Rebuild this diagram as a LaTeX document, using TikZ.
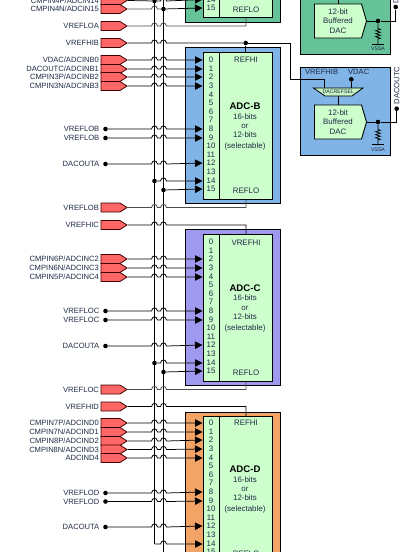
\documentclass[tikz,border=0pt]{standalone}
\usepackage{fontspec}
\setmainfont{Liberation Sans}
\usetikzlibrary{arrows.meta,positioning,shapes.symbols,decorations.pathmorphing}

\definecolor{adcgreen}{HTML}{66C299}
\definecolor{adcblue}{HTML}{80B3E6}
\definecolor{adcviolet}{HTML}{A099F0}
\definecolor{adcorange}{HTML}{F2A366}
\definecolor{innergreen}{HTML}{CCFFCC}
\definecolor{pinred}{HTML}{FF6666}
\definecolor{inktext}{HTML}{1F2A44}

\tikzset{
  outerbox/.style={draw, line width=0.9pt, anchor=north west, inner sep=0pt, minimum width=95.5pt},
  innerbox/.style={draw, line width=0.9pt, anchor=north west, inner sep=0pt, fill=innergreen, minimum width=69pt},
  redpin/.style={draw=black!75!red, line width=0.8pt, fill=pinred, shape=signal, signal to=east, signal from=nowhere, signal pointer angle=65, minimum width=26pt, minimum height=9pt, inner sep=0pt},
  blackdot/.style={circle, fill=black, inner sep=0pt, minimum size=4.6pt},
  pintext/.style={text=inktext, font=\fontsize{7.6}{8}\selectfont, inner sep=0pt},
  adctext/.style={text=inktext, font=\fontsize{7.9}{9.2}\selectfont, inner sep=0pt},
  adctitle/.style={font=\bfseries\fontsize{9.6}{10}\selectfont, inner sep=0pt},
  smalltext/.style={text=inktext, font=\fontsize{5.2}{6}\selectfont, inner sep=0pt},
  sigline/.style={line width=0.75pt, -{Triangle[length=7.5pt,width=7.5pt]}},
  refline/.style={line width=0.75pt},
  dacbox/.style={draw, line width=0.9pt, fill=innergreen, shape=signal, signal to=east, signal from=nowhere, signal pointer angle=147, minimum width=52pt, minimum height=34pt, inner sep=0pt, align=center, text=inktext, font=\fontsize{7.9}{9.4}\selectfont},
  muxbox/.style={draw, line width=0.8pt, fill=innergreen!90!gray},
  resistor/.style={line width=0.7pt, decorate, decoration={zigzag, segment length=3pt, amplitude=2.4pt, pre length=5pt, post length=4pt}}
}

% line hopping over the two vertical buses
\newcommand{\hops}[1]{-- (151.5,#1) .. controls (152.2,#1-4.2) and (156.8,#1-4.2) .. (157.5,#1) -- (160.5,#1) .. controls (161.2,#1-4.2) and (165.8,#1-4.2) .. (166.5,#1)}
% red pin with its name and a line to #4
\newcommand{\pinrow}[4]{
  \node[redpin] (#1) at (110.5,#2) {};
  \node[pintext, left=1.5pt of #1] {#3};
  \draw[sigline] (#1.east) \hops{#2} -- #4;
}
% black dot with its name and a line to #4
\newcommand{\dotrow}[4]{
  \node[blackdot] (#1) at (105.5,#2) {};
  \node[pintext, left=3.5pt of #1] {#3};
  \draw[sigline] (#1) \hops{#2} -- #4;
}
% pin numbers of one ADC, #1 is the name, #2 the offset
\newcommand{\adcnums}[2]{
  \foreach \n/\y in {0/0,1/9,2/17,3/26,4/35,5/43,6/52,7/60,8/69,9/78,10/86,11/95,12/103,13/112,14/121,15/129} {
    \node[adctext] (#1\n) at (211,#2+\y) {\n};
  }
}
% name and width text of one ADC
\newcommand{\adclabel}[2]{
  \node[adctitle] at (245,#2) {#1};
  \node[adctext, align=center] at (245,#2+25.5) {16-bits\\or\\12-bits\\[1.6pt](selectable)};
}

\begin{document}
\begin{tikzpicture}[x=1pt,y=-1pt]
\useasboundingbox (0,0) rectangle (410,552);
\clip (0,0) rectangle (410,552);

% converter blocks
\node[outerbox, fill=adcgreen, minimum height=100pt] (outerA) at (184.5,-78.5) {};
\node[innerbox, minimum height=95pt] (adcA) at (202.5,-78) {};
\node[outerbox, fill=adcblue, minimum height=156pt] (outerB) at (184.5,47) {};
\node[innerbox, minimum height=147pt] (adcB) at (202.5,52) {};
\node[outerbox, fill=adcviolet, minimum height=156pt] (outerC) at (184.5,229) {};
\node[innerbox, minimum height=147pt] (adcC) at (202.5,234) {};
\node[outerbox, fill=adcorange, minimum height=156pt] (outerD) at (184.5,411.5) {};
\node[innerbox, minimum height=147pt] (adcD) at (202.5,416) {};
\draw[line width=0.9pt] (219.5,-5) -- (219.5,17);
\draw[line width=0.9pt] (219.5,52) -- (219.5,199);
\draw[line width=0.9pt] (219.5,234) -- (219.5,381);
\draw[line width=0.9pt] (219.5,416) -- (219.5,563);

\node[adctext] (A14) at (211,-0.5) {14};
\node[adctext] (A15) at (211,8) {15};
\adcnums{B}{60}
\adcnums{C}{242}
\adcnums{D}{423}
\adclabel{ADC-B}{106.5}
\adclabel{ADC-C}{288}
\adclabel{ADC-D}{469.5}

\node[adctext] (refloA) at (246,10) {REFLO};
\node[adctext] (refhiB) at (246,60) {REFHI};
\node[adctext] (refloB) at (246,191) {REFLO};
\node[adctext] (refhiC) at (246,243) {VREFHI};
\node[adctext] (refloC) at (246,373) {REFLO};
\node[adctext] (refhiD) at (246,423) {REFHI};
\node[adctext] (refloD) at (246,554) {REFLO};

% the two buses
\draw[refline] (154.5,-2) -- (154.5,544);
\draw[refline] (163.5,-2) -- (163.5,554);
\node[blackdot] (busA) at (154.5,1) {};
\node[blackdot] (busB) at (163.5,9) {};
\node[blackdot] (busC) at (154.5,181) {};
\node[blackdot] (busD) at (163.5,190) {};
\node[blackdot] (busE) at (154.5,363) {};
\node[blackdot] (busF) at (163.5,372) {};
\coordinate (busG) at (154.5,544);
\draw[sigline] (busA) -- (160.5,1) .. controls (161.2,-3.2) and (165.8,-3.2) .. (166.5,1) -- (adcA.west |- A14);
\draw[sigline] (busB) -- (adcA.west |- A15);
\draw[sigline] (busC) -- (160.5,181) .. controls (161.2,176.8) and (165.8,176.8) .. (166.5,181) -- (adcB.west |- B14);
\draw[sigline] (busD) -- (adcB.west |- B15);
\draw[sigline] (busE) -- (160.5,363) .. controls (161.2,358.8) and (165.8,358.8) .. (166.5,363) -- (adcC.west |- C14);
\draw[sigline] (busF) -- (adcC.west |- C15);
\draw[sigline] (busG) -- (160.5,544) .. controls (161.2,539.8) and (165.8,539.8) .. (166.5,544) -- (adcD.west |- D14);

% top edge
\node[redpin] (pinA) at (110.5,0.5) {};
\node[pintext, left=1.5pt of pinA] {CMPIN4P/ADCIN14};
\draw[refline] (pinA.east) -- (busA);
\node[redpin] (pinB) at (110.5,9) {};
\node[pintext, left=1.5pt of pinB] {CMPIN4N/ADCIN15};
\draw[refline, black!70] (pinB.east) -- (151.5,9) .. controls (152.2,4.8) and (156.8,4.8) .. (157.5,9) -- (busB);

% reference lines
\node[redpin] (vreflA) at (110.5,26) {};
\node[pintext, left=1.5pt of vreflA] {VREFLOA};
\draw[refline, black!70] (vreflA.east) \hops{26} -| (refloA |- adcA.south);
\node[redpin] (vrefhB) at (110.5,43) {};
\node[pintext, left=1.5pt of vrefhB] {VREFHIB};
\node[blackdot] (tapB) at (245.7,43) {};
\draw[refline] (vrefhB.east) \hops{43} -- (tapB);
\draw[refline] (tapB) -- (tapB |- adcB.north);

\pinrow{pinB0}{60}{VDAC/ADCINB0}{(adcB.west |- B0)}
\pinrow{pinB1}{69}{DACOUTC/ADCINB1}{(adcB.west |- B1)}
\pinrow{pinB2}{77}{CMPIN3P/ADCINB2}{(adcB.west |- B2)}
\pinrow{pinB3}{86}{CMPIN3N/ADCINB3}{(adcB.west |- B3)}
\dotrow{lowB8}{129}{VREFLOB}{(adcB.west |- B8)}
\dotrow{lowB9}{138}{VREFLOB}{(adcB.west |- B9)}
\dotrow{dacB}{164}{DACOUTA}{(adcB.west |- B12)}

\node[redpin] (vreflB) at (110.5,207.5) {};
\node[pintext, left=1.5pt of vreflB] {VREFLOB};
\draw[refline, black!70] (vreflB.east) \hops{207.5} -| (refloB |- adcB.south);
\node[redpin] (vrefhC) at (110.5,225) {};
\node[pintext, left=1.5pt of vrefhC] {VREFHIC};
\draw[refline] (vrefhC.east) \hops{225} -| (refhiC |- adcC.north);

\pinrow{pinC2}{259}{CMPIN6P/ADCINC2}{(adcC.west |- C2)}
\pinrow{pinC3}{268}{CMPIN6N/ADCINC3}{(adcC.west |- C3)}
\pinrow{pinC4}{277}{CMPIN5P/ADCINC4}{(adcC.west |- C4)}
\dotrow{lowC8}{311}{VREFLOC}{(adcC.west |- C8)}
\dotrow{lowC9}{320}{VREFLOC}{(adcC.west |- C9)}
\dotrow{dacC}{346}{DACOUTA}{(adcC.west |- C12)}

\node[redpin] (vreflC) at (110.5,389.5) {};
\node[pintext, left=1.5pt of vreflC] {VREFLOC};
\draw[refline, black!70] (vreflC.east) \hops{389.5} -| (refloC |- adcC.south);
\node[redpin] (vrefhD) at (110.5,406.5) {};
\node[pintext, left=1.5pt of vrefhD] {VREFHID};
\draw[refline] (vrefhD.east) \hops{406.5} -| (refhiD |- adcD.north);

\pinrow{pinD0}{423}{CMPIN7P/ADCIND0}{(adcD.west |- D0)}
\pinrow{pinD1}{432}{CMPIN7N/ADCIND1}{(adcD.west |- D1)}
\pinrow{pinD2}{441}{CMPIN8P/ADCIND2}{(adcD.west |- D2)}
\pinrow{pinD3}{449.5}{CMPIN8N/ADCIND3}{(adcD.west |- D3)}
\pinrow{pinD4}{458}{ADCIND4}{(adcD.west |- D4)}
\dotrow{lowD8}{493}{VREFLOD}{(adcD.west |- D8)}
\dotrow{lowD9}{501.5}{VREFLOD}{(adcD.west |- D9)}
\dotrow{dacD}{527}{DACOUTA}{(adcD.west |- D12)}

% DAC blocks
\node[outerbox, fill=adcgreen, minimum width=90pt, minimum height=70pt] (outerDacB) at (300,-16) {};
\node[dacbox] (dacUnitB) at (338,21) {12-bit\\Buffered\\DAC};
\node[blackdot] (outB) at (395.7,7) {};
\node[blackdot] (resB) at (378,21) {};
\coordinate (gndB) at (378,44);
\draw[refline] (dacUnitB.east) -- (resB) -| (outB);
\draw[resistor] (resB) -- (gndB);
\draw[line width=0.9pt] ([xshift=-6pt]gndB) -- ([xshift=6pt]gndB);
\node[smalltext] at (378,49) {VSSA};
\node[pintext, rotate=90, anchor=west] at (395.7,3.5) {DACOUTB};
\draw[refline] (338,-2) -- (338,4);

\node[outerbox, fill=adcblue, minimum width=90pt, minimum height=88pt] (outerDacC) at (300,66.5) {};
\draw[muxbox] (313.5,88) -- (363,88) -- (352,96) -- (325,96) -- cycle;
\node[smalltext, minimum width=27pt, minimum height=8pt] (muxC) at (338.3,92) {DACREFSEL};
\node[dacbox] (dacUnitC) at (338,122) {12-bit\\Buffered\\DAC};
\node[pintext] (refDacC) at (321.6,72) {VREFHIB};
\node[pintext] (vdacC) at (358.7,72) {VDAC};
\node[blackdot] (vdacDot) at (351.3,79.3) {};
\draw[refline] (vdacDot) -- (vdacDot |- muxC.north);
\draw[refline] (muxC.south) -- (muxC.south |- dacUnitC.north);
\node[blackdot] (outC) at (396.7,108.7) {};
\node[blackdot] (resC) at (378,122) {};
\coordinate (gndC) at (378,144.5);
\draw[refline] (dacUnitC.east) -- (resC) -| (outC);
\draw[resistor] (resC) -- (gndC);
\draw[line width=0.9pt] ([xshift=-6pt]gndC) -- ([xshift=6pt]gndC);
\node[smalltext] at (378,150) {VSSA};
\node[pintext, rotate=90, anchor=west] at (396.7,104.5) {DACOUTC};
\draw[refline] (tapB) -- (290,43) -- (290,79.3) -- (324,79.3) -- (324,88);
\end{tikzpicture}
\end{document}
